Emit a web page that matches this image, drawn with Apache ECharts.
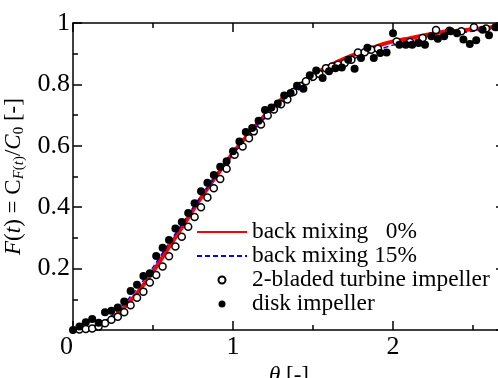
<!DOCTYPE html>
<html>
<head>
<meta charset="utf-8">
<script src="https://cdn.jsdelivr.net/npm/echarts@6/dist/echarts.min.js"></script>
<style>
html,body{margin:0;padding:0;background:#fff;}
#chart{width:498px;height:378px;}
</style>
</head>
<body>
<div id="chart"></div>
<script>
// ---- data ----
const curveTheta = [0,0.1,0.2,0.3,0.4,0.5,0.6,0.7,0.8,0.9,1.0,1.1,1.2,1.3,1.4,1.5,1.6,1.7,1.8,1.9,2.0,2.1,2.2,2.3,2.4,2.5,2.6,2.7];
const backMix0  = [0,0.004,0.023,0.063,0.12,0.19,0.27,0.35,0.43,0.505,0.577,0.64,0.70,0.75,0.79,0.83,0.86,0.885,0.905,0.925,0.94,0.95,0.96,0.97,0.975,0.98,0.985,0.99];
const backMix15 = [0,0.006,0.03,0.075,0.135,0.205,0.283,0.36,0.435,0.507,0.574,0.634,0.69,0.738,0.779,0.815,0.846,0.872,0.893,0.912,0.928,0.94,0.951,0.96,0.967,0.973,0.978,0.982];

const turbineTheta = [0.04,0.08,0.12,0.16,0.20,0.24,0.28,0.32,0.36,0.40,0.44,0.48,0.52,0.56,0.60,0.64,0.68,0.72,0.76,0.80,0.84,0.88,0.92,0.96,1.01,1.06,1.10,1.13,1.175,1.217,1.256,1.30,1.34,1.377,1.42,1.456,1.50,1.54,1.581,1.619,1.656,1.698,1.74,1.781,1.823,1.864,1.906,2.023,2.106,2.185,2.269,2.352,2.427,2.506,2.581];
const turbineF     = [0.002,0.003,0.005,0.011,0.022,0.033,0.043,0.058,0.081,0.105,0.125,0.155,0.179,0.207,0.24,0.272,0.304,0.336,0.368,0.4,0.432,0.462,0.492,0.525,0.571,0.598,0.625,0.647,0.669,0.699,0.718,0.735,0.751,0.775,0.795,0.81,0.825,0.834,0.853,0.858,0.864,0.87,0.88,0.904,0.905,0.913,0.916,0.94,0.938,0.951,0.977,0.975,0.973,0.986,0.982];

const diskTheta = [0,0.04,0.08,0.12,0.16,0.20,0.24,0.28,0.32,0.36,0.40,0.44,0.48,0.52,0.56,0.60,0.64,0.68,0.72,0.76,0.80,0.84,0.88,0.92,0.96,1.00,1.04,1.08,1.12,1.16,1.20,1.24,1.28,1.32,1.36,1.40,1.44,1.48,1.52,1.56,1.60,1.64,1.68,1.72,1.76,1.80,1.84,1.88,1.92,1.96,2.00,2.04,2.08,2.12,2.16,2.20,2.24,2.28,2.32,2.36,2.40,2.44,2.48,2.52,2.56,2.60,2.64];
const diskF     = [0,0.011,0.025,0.036,0.024,0.058,0.063,0.073,0.093,0.127,0.147,0.176,0.185,0.241,0.268,0.293,0.331,0.352,0.381,0.413,0.452,0.48,0.505,0.532,0.55,0.582,0.614,0.645,0.658,0.682,0.717,0.725,0.738,0.764,0.772,0.796,0.786,0.83,0.845,0.821,0.843,0.853,0.855,0.88,0.851,0.886,0.919,0.886,0.902,0.904,0.967,0.929,0.929,0.929,0.935,0.929,0.957,0.949,0.957,0.973,0.967,0.946,0.932,0.944,0.978,0.96,0.986];

const xTicksMajor = [0,1,2];
const xTickLabels = ['0', '1', '2'];
const yTickLabels = ['', '0.2', '0.4', '0.6', '0.8', '1'];
const seriesNames = ['back mixing   0%', 'back mixing 15%', '2-bladed turbine impeller', 'disk impeller'];

// ---- chart ----
const FONT = 'Liberation Serif';
const lineSt = {color:'#000', width:1.5};
function xAx(pos, major){
  return {
    type:'value', min:0, max:2.7, interval: major ? 1 : 0.5, position:pos,
    axisLine:{show: major, onZero:false, lineStyle:lineSt},
    axisTick:{show:true, inside:true, length: major ? 9 : 5, lineStyle:lineSt},
    axisLabel:{show:false}, splitLine:{show:false}
  };
}
function yAx(pos){
  return {
    type:'value', min:0, max:1, interval:0.2, position:pos,
    axisLine:{show:true, onZero:false, lineStyle:lineSt},
    axisTick:{show:true, inside:true, length:9, lineStyle:lineSt},
    minorTick:{show:true, splitNumber:2, length:5, lineStyle:lineSt},
    axisLabel:{show:false}, splitLine:{show:false}
  };
}
const xBottom = xAx('bottom', true);
xBottom.axisLabel = {
  show:true, showMaxLabel:false, margin:4, color:'#000', fontFamily:FONT, fontSize:26,
  alignMinLabel:'right',
  formatter: v => { const i = xTicksMajor.indexOf(v); return i < 0 ? '' : xTickLabels[i]; }
};
xBottom.name = '{it|θ}{n| [-]}';
xBottom.nameLocation = 'middle';
xBottom.nameGap = 28;
xBottom.nameTextStyle = {
  rich:{
    it:{fontFamily:FONT, fontStyle:'italic', fontSize:23, color:'#000'},
    n:{fontFamily:FONT, fontSize:23, color:'#000'}
  }
};
const yLeft = yAx('left');
yLeft.axisLabel = {
  show:true, margin:3, color:'#000', fontFamily:FONT, fontSize:26,
  formatter: v => yTickLabels[Math.round(v/0.2)] || ''
};
yLeft.name = '{it|F}{n|(}{it|t}{n|) = C}{si|F}{ss|(}{si|t}{ss|)}{n|/}{it|C}{ss|0}{n| [-]}';
yLeft.nameLocation = 'middle';
yLeft.nameGap = 38;
yLeft.nameTextStyle = {
  rich:{
    it:{fontFamily:FONT, fontStyle:'italic', fontSize:23, lineHeight:26, color:'#000'},
    n:{fontFamily:FONT, fontSize:23, lineHeight:26, color:'#000'},
    si:{fontFamily:FONT, fontStyle:'italic', fontSize:15, lineHeight:12, verticalAlign:'bottom', color:'#000'},
    ss:{fontFamily:FONT, fontSize:15, lineHeight:12, verticalAlign:'bottom', color:'#000'}
  }
};

const hideSym = {color:'rgba(0,0,0,0)', borderColor:'rgba(0,0,0,0)', borderWidth:0, opacity:0};

const chart = echarts.init(document.getElementById('chart'), null, {renderer:'canvas'});
chart.setOption({
  animation:false,
  backgroundColor:'#fff',
  grid:{left:73, right:-7, top:23, bottom:48, containLabel:false, outerBoundsMode:'none'},
  xAxis:[xBottom, xAx('bottom', false), xAx('top', true), xAx('top', false)],
  yAxis:[yLeft, yAx('right')],
  legend:{
    orient:'vertical', left:196, top:220, padding:0,
    itemWidth:50, itemHeight:7, itemGap:0,
    textStyle:{fontFamily:FONT, fontSize:23.4, lineHeight:24, color:'#000'},
    data:[
      {name:seriesNames[0], itemStyle:hideSym},
      {name:seriesNames[1], itemStyle:hideSym},
      {name:seriesNames[2]},
      {name:seriesNames[3]}
    ]
  },
  series:[
    {name:seriesNames[0], type:'line', xAxisIndex:0, yAxisIndex:0, smooth:0.3, symbol:'none',
     lineStyle:{color:'#ff0000', width:4}, itemStyle:{color:'#ff0000'}, z:2,
     data: curveTheta.map((t,i)=>[t, backMix0[i]])},
    {name:seriesNames[1], type:'line', xAxisIndex:0, yAxisIndex:0, smooth:0.3, symbol:'none',
     lineStyle:{color:'#0000ff', width:1.5, type:[5,3]}, itemStyle:{color:'#0000ff'}, z:3,
     data: curveTheta.map((t,i)=>[t, backMix15[i]])},
    {name:seriesNames[2], type:'scatter', xAxisIndex:0, yAxisIndex:0, symbol:'circle', symbolSize:7, z:4,
     itemStyle:{color:'#fff', borderColor:'#000', borderWidth:1.5, opacity:1},
     data: turbineTheta.map((t,i)=>[t, turbineF[i]])},
    {name:seriesNames[3], type:'scatter', xAxisIndex:0, yAxisIndex:0, symbol:'circle', symbolSize:8, z:5,
     itemStyle:{color:'#000', opacity:1},
     data: diskTheta.map((t,i)=>[t, diskF[i]])}
  ]
});
</script>
</body>
</html>
